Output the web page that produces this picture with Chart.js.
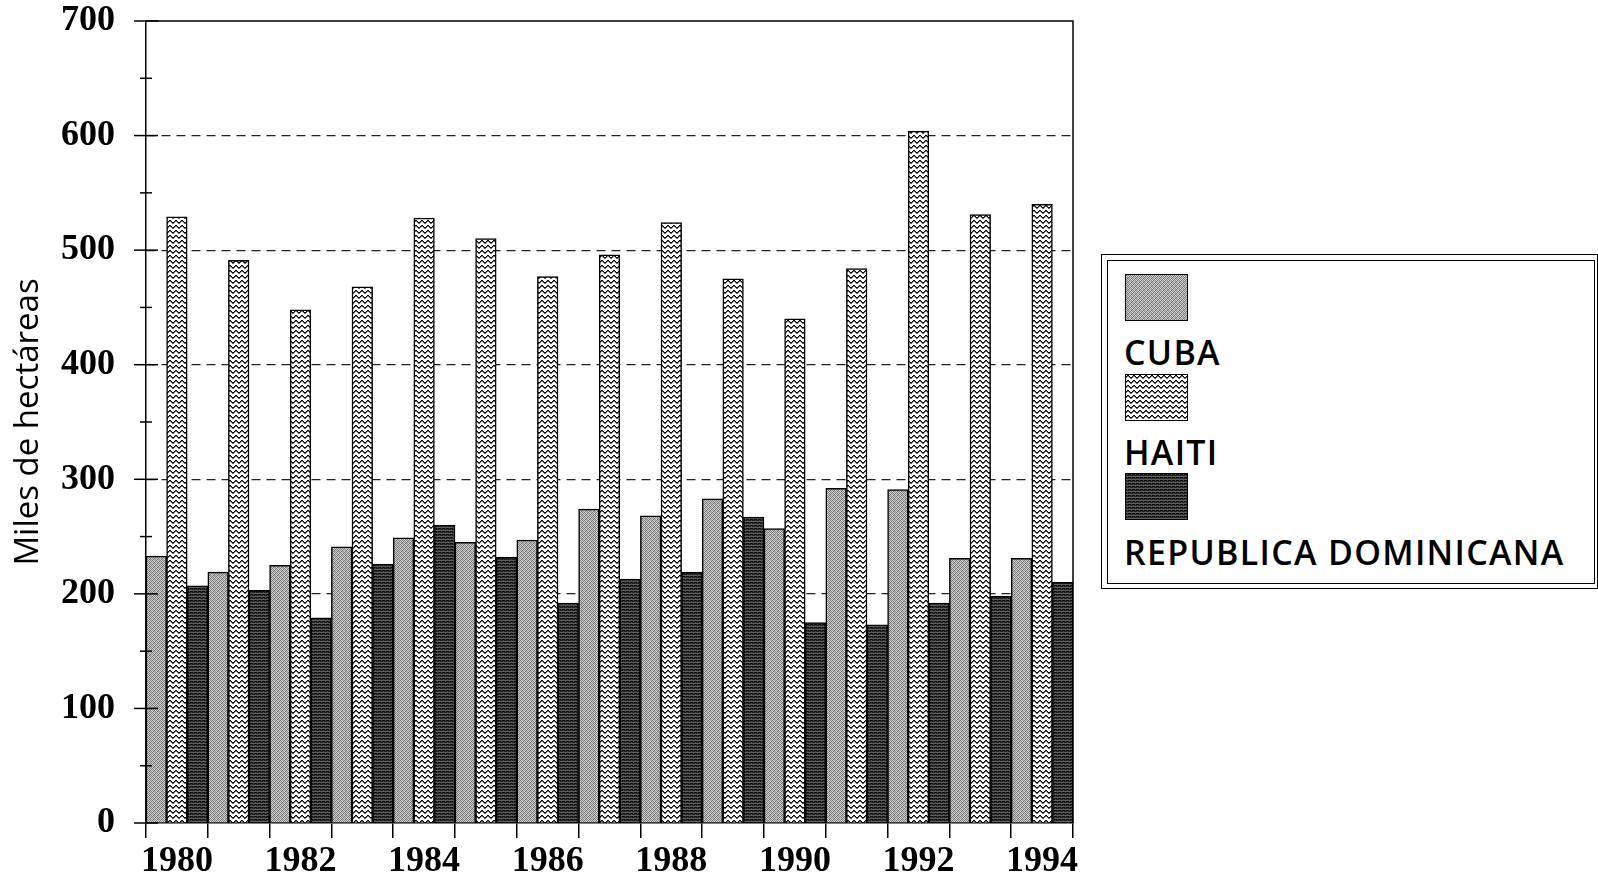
<!DOCTYPE html>
<html>
<head>
<meta charset="utf-8">
<script src="https://cdn.jsdelivr.net/npm/chart.js@4.4.1/dist/chart.umd.min.js"></script>
<style>
  body { margin: 0; background: #fff; width: 1598px; height: 879px; overflow: hidden; position: relative; }
  #wrap { position: absolute; left: 0; top: 0; width: 1090px; height: 879px; }
  .frame { position: absolute; border: 1.5px solid #000; box-sizing: border-box; }
  .sw { position: absolute; width: 63px; height: 47px; border: 1.5px solid #000; box-sizing: border-box; }
  .lab { position: absolute; font-family: "Open Sans", sans-serif; font-weight: 600; font-size: 34px;
         line-height: 34px; letter-spacing: 1.3px; color: #000; white-space: nowrap; }
</style>
</head>
<body>
<div id="wrap"><canvas id="chart"></canvas></div>
<div class="frame" style="left:1101px;top:254px;width:497px;height:335px"></div>
<div class="frame" style="left:1107px;top:260px;width:488px;height:324px"></div>
<div id="legend"></div>
<script>
// years and values (thousand hectares)
var years = ['1980','1981','1982','1983','1984','1985','1986','1987','1988','1989','1990','1991','1992','1993','1994'];
var cuba   = [233, 219, 225, 241, 249, 245, 247, 274, 268, 283, 257, 292, 291, 231, 231];
var haiti  = [529, 491, 448, 468, 528, 510, 477, 496, 524, 475, 440, 484, 604, 531, 540];
var repDom = [207, 203, 179, 226, 260, 232, 192, 213, 219, 267, 175, 173, 192, 198, 210];
var seriesNames = ['CUBA', 'HAITI', 'REPUBLICA DOMINICANA'];
var yTicks = [0, 100, 200, 300, 400, 500, 600, 700];

// small fill tiles imitating the printed hatchings
function tile(w, h, paint) {
  var c = document.createElement('canvas');
  c.width = w; c.height = h;
  paint(c.getContext('2d'));
  return c;
}
var cubaTile = tile(4, 4, function (g) {
  var v = [[120, 210, 140, 195], [200, 130, 220, 115], [150, 190, 110, 205], [215, 105, 185, 145]];
  for (var y = 0; y < 4; y++) for (var x = 0; x < 4; x++) {
    g.fillStyle = 'rgb(' + v[y][x] + ',' + v[y][x] + ',' + v[y][x] + ')';
    g.fillRect(x, y, 1, 1);
  }
});
var haitiTile = tile(6, 5, function (g) {
  g.fillStyle = '#fff'; g.fillRect(0, 0, 6, 5);
  var wave = [1, 0, 0, 1, 2, 2];
  for (var x = 0; x < 6; x++) {
    g.fillStyle = '#000'; g.fillRect(x, wave[x], 1, 1);
    g.fillStyle = '#666'; g.fillRect(x, wave[x] + 1, 1, 1);
  }
});
var domTile = tile(4, 3, function (g) {
  var rows = ['#0c0c0c', '#222', '#5e5e5e'];
  for (var y = 0; y < 3; y++) { g.fillStyle = rows[y]; g.fillRect(0, y, 4, 1); }
  g.fillStyle = '#444'; g.fillRect(1, 0, 1, 1); g.fillRect(3, 1, 1, 1);
});
var tiles = [cubaTile, haitiTile, domTile];

var ctx = document.getElementById('chart');
var pat = function (t) { return ctx.getContext('2d').createPattern(t, 'repeat'); };

var framePlugin = {
  id: 'frame',
  afterDraw: function (chart) {
    var g = chart.ctx, a = chart.chartArea, y = chart.scales.y;
    g.save();
    g.strokeStyle = '#000';
    g.lineWidth = 1.5;
    g.beginPath();
    g.moveTo(a.left, a.top); g.lineTo(a.right, a.top); g.lineTo(a.right, a.bottom);
    g.stroke();
    for (var v = 0; v <= 700; v += 50) {
      var py = y.getPixelForValue(v);
      var len = v % 100 === 0 ? 12 : 6;
      g.beginPath();
      g.moveTo(a.left - len, py); g.lineTo(a.left + len, py);
      g.stroke();
    }
    g.restore();
  }
};

var numFont = { family: '"Liberation Serif", serif', weight: 'bold', size: 36 };

var chart = new Chart(ctx, {
  type: 'bar',
  data: {
    labels: years,
    datasets: [
      { label: seriesNames[0], data: cuba, backgroundColor: pat(cubaTile) },
      { label: seriesNames[1], data: haiti, backgroundColor: pat(haitiTile) },
      { label: seriesNames[2], data: repDom, backgroundColor: pat(domTile) }
    ]
  },
  options: {
    responsive: true,
    maintainAspectRatio: false,
    animation: false,
    layout: { autoPadding: false, padding: { top: 21, right: 17, left: 0, bottom: 0 } },
    datasets: {
      bar: { categoryPercentage: 1, barPercentage: 1, borderColor: '#000', borderWidth: 1.5 }
    },
    plugins: { legend: { display: false }, tooltip: { enabled: false } },
    scales: {
      x: {
        afterFit: function (s) { s.height = 56; },
        grid: { drawOnChartArea: false, drawTicks: true, tickLength: 15, color: '#000', lineWidth: 1.5 },
        border: { display: true, color: '#000', width: 1.5 },
        ticks: {
          autoSkip: false, maxRotation: 0, padding: 2, color: '#000',
          font: numFont,
          callback: function (v, i) { return i % 2 === 0 ? years[i] : ''; }
        }
      },
      y: {
        min: 0, max: 700,
        afterFit: function (s) { s.width = 146; s.paddingTop = 0; s.paddingBottom = 0; },
        afterBuildTicks: function (s) {
          var t = [];
          for (var v = 0; v <= 700; v += 50) t.push({ value: v });
          s.ticks = t;
        },
        grid: {
          drawTicks: false, lineWidth: 1.2,
          color: function (c) {
            var v = c.tick ? c.tick.value : 0;
            return (v % 100 === 0 && v > 0 && v < 700) ? '#222' : 'rgba(0,0,0,0)';
          }
        },
        border: { display: true, color: '#000', width: 1.5, dash: [9, 6] },
        ticks: {
          padding: 31, color: '#000',
          font: numFont,
          callback: function (v) { return yTicks.indexOf(v) >= 0 ? String(v) : ''; }
        },
        title: {
          display: true, text: 'Miles de hectáreas', color: '#000',
          font: { family: '"Open Sans", sans-serif', size: 33 },
          padding: { top: 9, bottom: 0 }
        }
      }
    }
  },
  plugins: [framePlugin]
});

// legend: swatch above each series name
var legend = document.getElementById('legend');
chart.data.datasets.forEach(function (ds, i) {
  var sw = document.createElement('div');
  sw.className = 'sw';
  sw.style.left = '1125px';
  sw.style.top = (274 + i * 99.5) + 'px';
  sw.style.backgroundImage = 'url(' + tiles[i].toDataURL() + ')';
  legend.appendChild(sw);
  var lab = document.createElement('div');
  lab.className = 'lab';
  lab.style.left = '1124px';
  lab.style.top = (335 + i * 100) + 'px';
  lab.textContent = ds.label;
  legend.appendChild(lab);
});
</script>
</body>
</html>
